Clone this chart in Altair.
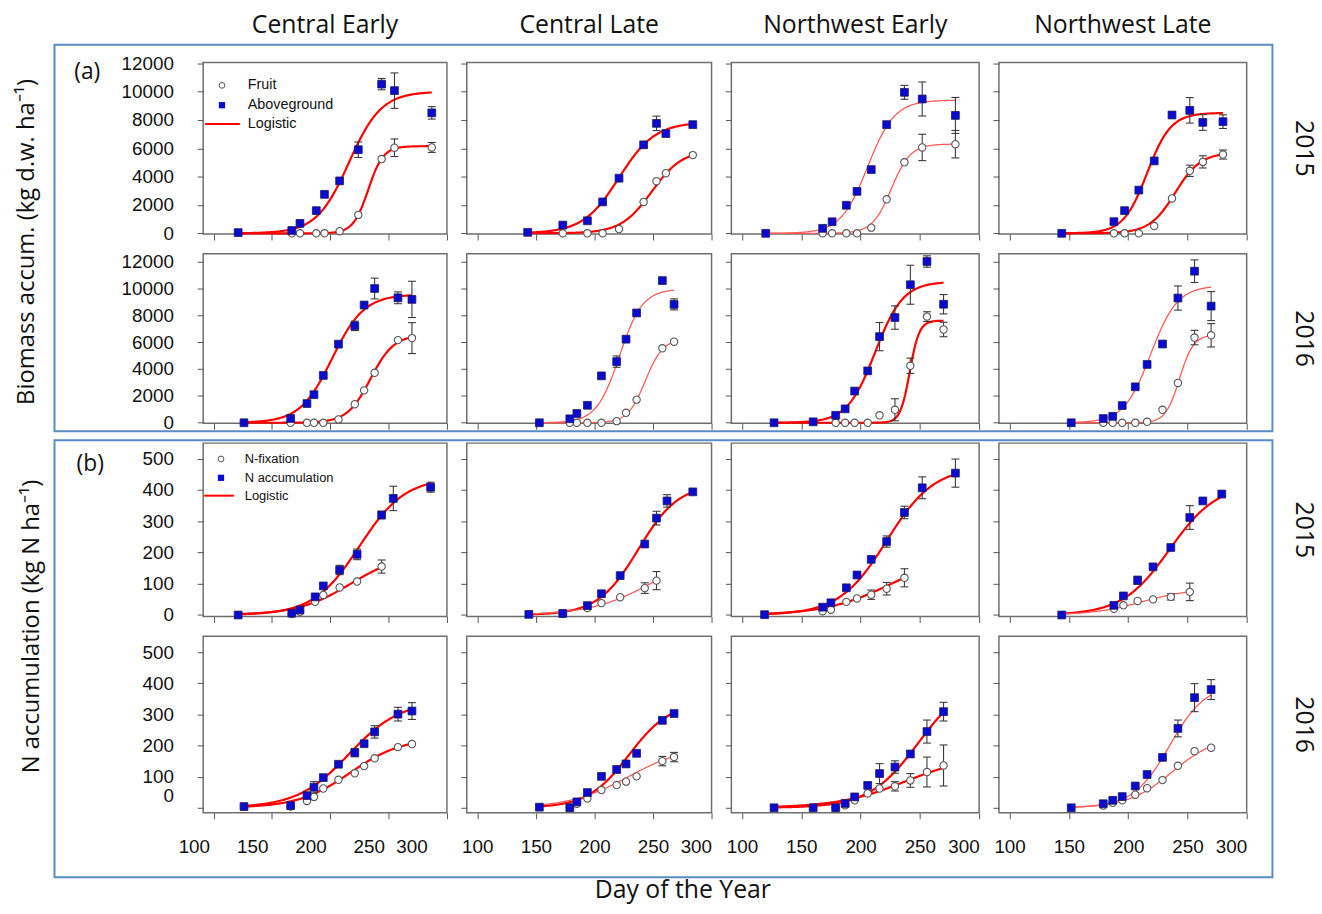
import numpy as np
import pandas as pd
import altair as alt

nan = float("nan")

COLUMNS = ["Central Early", "Central Late", "Northwest Early", "Northwest Late"]
YEARS = ["2015", "2016", "2015", "2016"]
DAY_TICKS = [100, 150, 200, 250, 300]
BIOMASS_TICKS = [0, 2000, 4000, 6000, 8000, 10000, 12000]
N_TICKS = [0, 100, 200, 300, 400, 500]

# ---------------- (a) biomass accumulation, 2015 ----------------
BIO15_DAY = [
    [121, 167, 174, 188, 195, 208, 224, 244, 255, 287],
    [143, 173, 194, 207, 221, 242, 253, 261, 284],
    [120, 168, 176, 188, 197, 209, 222, 237, 252, 280],
    [144, 188, 197, 209, 222, 237, 252, 263, 280],
]
BIO15_ABOVE = [
    [50, 200, 700, 1600, 2750, 3700, 5900, 10530, 10070, 8500],
    [70, 580, 885, 2215, 3890, 6245, 7760, 7040, 7670],
    [0, 350, 815, 1980, 2960, 4500, 7670, 9950, 9480, 8320],
    [0, 820, 1600, 3050, 5110, 8350, 8680, 7830, 7880],
]
BIO15_ABOVE_SE = [
    [0, 0, 0, 0, 0, 0, 550, 400, 1250, 440],
    [0, 0, 0, 0, 0, 0, 510, 0, 0],
    [0, 0, 0, 0, 0, 0, 0, 490, 1200, 1270],
    [0, 0, 0, 0, 0, 0, 900, 560, 480],
]
BIO15_FRUIT = [
    [nan, 0, 0, 0, 0, 150, 1300, 5240, 6040, 6060],
    [nan, 0, 0, 0, 300, 2215, 3680, 4240, 5520],
    [nan, 0, 0, 0, 0, 400, 2400, 5010, 6060, 6290],
    [nan, 0, 0, 0, 515, 2460, 4410, 5040, 5560],
]
BIO15_FRUIT_SE = [
    [0, 0, 0, 0, 0, 0, 0, 0, 620, 350],
    [0, 0, 0, 0, 0, 0, 0, 0, 0],
    [0, 0, 0, 0, 0, 0, 0, 0, 930, 970],
    [0, 0, 0, 0, 0, 0, 400, 430, 320],
]
# logistic fits: (K, r, t0)
BIO15_ABOVE_FIT = [(10000, 0.072, 216), (7850, 0.065, 221), (9400, 0.088, 206), (8500, 0.100, 216)]
BIO15_FRUIT_FIT = [(6150, 0.155, 232.5), (5900, 0.076, 249), (6300, 0.124, 226), (5700, 0.093, 239.6)]
BIO15_ABOVE_BOLD = [True, True, False, True]
BIO15_FRUIT_BOLD = [True, True, False, True]

# ---------------- (a) biomass accumulation, 2016 ----------------
BIO16_DAY = [
    [126, 166, 180, 186, 194, 207, 221, 229, 238, 258, 270],
    [153, 179, 185, 194, 206, 219, 227, 236, 258, 268],
    [127, 160, 179, 187, 195, 206, 216, 229, 242, 256, 270],
    [152, 179, 187, 195, 206, 216, 229, 242, 256, 270],
]
BIO16_ABOVE = [
    [0, 320, 1430, 2090, 3520, 5850, 7210, 8760, 9990, 9300, 9180],
    [0, 295, 690, 1300, 3490, 4550, 6220, 8170, 10580, 8810],
    [0, 70, 555, 1035, 2360, 3860, 6410, 7830, 10270, 12000, 8820],
    [0, 315, 480, 1280, 2675, 4340, 5860, 9280, 11280, 8680],
]
BIO16_ABOVE_SE = [
    [0, 0, 0, 0, 0, 0, 350, 0, 770, 440, 1350],
    [0, 0, 0, 0, 0, 420, 0, 0, 0, 410],
    [0, 0, 0, 0, 0, 0, 1050, 870, 1450, 420, 720],
    [0, 0, 0, 0, 0, 0, 0, 900, 840, 1080],
]
BIO16_FRUIT = [
    [nan, 0, 0, 0, 0, 250, 1380, 2410, 3720, 6150, 6300],
    [nan, 0, 0, 0, 0, 120, 740, 1720, 5540, 6030],
    [nan, nan, 0, 0, 0, 0, 555, 965, 4240, 7900, 6940],
    [nan, 0, 0, 0, 0, 70, 965, 2965, 6340, 6510],
]
BIO16_FRUIT_SE = [
    [0, 0, 0, 0, 0, 0, 0, 0, 0, 0, 1150],
    [0, 0, 0, 0, 0, 0, 0, 0, 0, 0],
    [0, 0, 0, 0, 0, 0, 0, 820, 570, 360, 540],
    [0, 0, 0, 0, 0, 0, 0, 0, 540, 870],
]
BIO16_ABOVE_FIT = [(9550, 0.073, 201.5), (9950, 0.102, 221.4), (10500, 0.085, 212.3), (10200, 0.0887, 219)]
BIO16_FRUIT_FIT = [(6550, 0.100, 234.5), (6250, 0.133, 243.5), (7600, 0.250, 241.5), (6550, 0.170, 243.3)]
BIO16_ABOVE_BOLD = [True, False, True, False]
BIO16_FRUIT_BOLD = [True, False, True, False]

# ---------------- (b) N accumulation, 2015 ----------------
N15_DAY = [
    [121, 167, 174, 187, 194, 208, 223, 244, 254, 286],
    [144, 173, 194, 206, 222, 243, 253, 262, 284],
    [119, 168, 175, 188, 197, 209, 222, 237, 252, 280],
    [144, 188, 196, 208, 221, 236, 252, 263, 279],
]
N15_ACC = [
    [0, 6, 16, 58, 93, 144, 194, 320, 373, 409],
    [2, 5, 30, 68, 126, 227, 310, 365, 394],
    [1, 25, 39, 87, 128, 178, 235, 328, 407, 454],
    [0, 31, 61, 111, 154, 216, 312, 365, 387],
]
N15_ACC_SE = [
    [0, 0, 0, 0, 0, 15, 17, 12, 39, 16],
    [0, 0, 0, 0, 0, 0, 22, 20, 0],
    [0, 0, 0, 0, 0, 0, 18, 20, 35, 45],
    [0, 0, 0, 13, 0, 0, 38, 0, 10],
]
N15_FIX = [
    [nan, 3, 10, 42, 64, 88, 107, 155, nan, nan],
    [nan, 3, 22, 38, 57, 86, 110, nan, nan],
    [nan, 12, 17, 42, 53, 65, 84, 119, nan, nan],
    [nan, 20, 31, 45, 50, 58, 74, nan, nan],
]
N15_FIX_SE = [
    [0, 0, 0, 0, 0, 0, 0, 21, 0, 0],
    [0, 0, 0, 0, 0, 17, 29, 0, 0],
    [0, 0, 0, 0, 0, 15, 20, 29, 0, 0],
    [0, 0, 0, 0, 0, 10, 28, 0, 0],
]
N15_ACC_FIT = [(440, 0.051, 225), (420, 0.058, 237.5), (475, 0.050, 222), (420, 0.050, 235)]
N15_FIX_FIT = [(200, 0.044, 217.5), (200, 0.039, 247.7), (200, 0.036, 226), (85, 0.048, 212)]
N15_ACC_BOLD = [True, True, True, True]
N15_FIX_BOLD = [True, False, True, False]

# ---------------- (b) N accumulation, 2016 ----------------
N16_DAY = [
    [126, 166, 180, 186, 194, 207, 221, 229, 238, 258, 270],
    [153, 179, 185, 194, 206, 219, 227, 236, 258, 268],
    [127, 160, 179, 187, 195, 206, 216, 229, 242, 256, 270],
    [152, 179, 187, 195, 206, 216, 229, 242, 256, 270],
]
N16_ACC = [
    [4, 7, 39, 66, 97, 140, 177, 206, 244, 301, 311],
    [2, 0, 19, 49, 101, 123, 141, 175, 281, 303],
    [0, 0, 0, 14, 35, 72, 110, 131, 173, 245, 309],
    [0, 13, 24, 36, 70, 107, 162, 255, 354, 380],
]
N16_ACC_SE = [
    [0, 0, 0, 18, 0, 0, 13, 0, 20, 22, 27],
    [0, 0, 0, 0, 0, 10, 10, 0, 10, 8],
    [0, 0, 0, 0, 0, 0, 32, 20, 10, 37, 30],
    [0, 0, 0, 0, 0, 0, 0, 27, 45, 32],
]
N16_FIX = [
    [nan, 4, 22, 35, 62, 90, 111, 134, 159, 195, 205],
    [nan, 2, 13, 30, 57, 73, 84, 101, 150, 163],
    [nan, nan, 0, 8, 24, 46, 62, 69, 88, 115, 136],
    [nan, 7, 16, 24, 42, 63, 89, 135, 182, 193],
]
N16_FIX_SE = [
    [0, 0, 0, 0, 0, 0, 0, 0, 0, 0, 0],
    [0, 0, 0, 0, 0, 0, 0, 0, 15, 15],
    [0, 0, 0, 0, 0, 0, 0, 15, 22, 48, 66],
    [0, 0, 0, 0, 0, 0, 0, 0, 0, 0],
]
N16_ACC_FIT = [(345, 0.045, 216), (340, 0.057, 229.5), (420, 0.048, 249), (400, 0.065, 235)]
N16_FIX_FIT = [(225, 0.045, 217), (200, 0.040, 229), (170, 0.035, 238), (230, 0.054, 237)]
N16_ACC_BOLD = [True, True, True, False]
N16_FIX_BOLD = [True, False, True, False]

ROWS = [
    (BIO15_DAY, BIO15_ABOVE, BIO15_ABOVE_SE, BIO15_FRUIT, BIO15_FRUIT_SE,
     BIO15_ABOVE_FIT, BIO15_FRUIT_FIT, BIO15_ABOVE_BOLD, BIO15_FRUIT_BOLD),
    (BIO16_DAY, BIO16_ABOVE, BIO16_ABOVE_SE, BIO16_FRUIT, BIO16_FRUIT_SE,
     BIO16_ABOVE_FIT, BIO16_FRUIT_FIT, BIO16_ABOVE_BOLD, BIO16_FRUIT_BOLD),
    (N15_DAY, N15_ACC, N15_ACC_SE, N15_FIX, N15_FIX_SE,
     N15_ACC_FIT, N15_FIX_FIT, N15_ACC_BOLD, N15_FIX_BOLD),
    (N16_DAY, N16_ACC, N16_ACC_SE, N16_FIX, N16_FIX_SE,
     N16_ACC_FIT, N16_FIX_FIT, N16_ACC_BOLD, N16_FIX_BOLD),
]

# layout of the 4x4 grid of panels
COL_W = [246, 247, 250, 250]
ROW_H = [173, 171, 175, 178]
X_DOMAIN = [91, 300]
Y_DOMAIN = [[-50, 12050], [-40, 12570], [-5, 550], [-16, 551]]
Y_TICKS = [BIOMASS_TICKS, BIOMASS_TICKS, N_TICKS, N_TICKS]

RED = "#ff0000"
RED_LIGHT = "#ff5a5a"
BLUE = "#0a0ad2"
FRAME_BLUE = "#5b8bc6"
TEXT_FONT = "Open Sans"
TICK_FONT = "Liberation Sans"

ONE = pd.DataFrame({"k": [0]})


def logistic(K, r, t0, d0, d1, name, bold):
    t = np.linspace(d0, d1, 160)
    return pd.DataFrame({
        "day": t,
        "val": K / (1.0 + np.exp(-r * (t - t0))),
        "series": name,
        "clr": RED if bold else RED_LIGHT,
        "sw": 2.2 if bold else 1.3,
    })


def label(text, x, y, size=14, font=TICK_FONT, align="left", angle=0, baseline="middle"):
    return alt.Chart(ONE).mark_text(
        text=text, font=font, fontSize=size, align=align, baseline=baseline,
        angle=angle, color="#111111",
    ).encode(x=alt.value(x), y=alt.value(y))


def panel(ri, ci):
    (days, filled, filled_se, hollow, hollow_se,
     filled_fit, hollow_fit, filled_bold, hollow_bold) = ROWS[ri]
    d = np.array(days[ci], dtype=float)
    f = np.array(filled[ci], dtype=float)
    fse = np.array(filled_se[ci], dtype=float)
    h = np.array(hollow[ci], dtype=float)
    hse = np.array(hollow_se[ci], dtype=float)
    w, ht = COL_W[ci], ROW_H[ri]

    xaxis_kw = dict(values=DAY_TICKS, labels=(ri == 3), title=None, labelPadding=19)
    if ri == 3 and ci == 0:
        xaxis_kw["labelOffset"] = -20
    yaxis_kw = dict(values=Y_TICKS[ri], labels=(ci == 0), title=None, labelPadding=24,
                    format="d")
    if ri == 3:
        yaxis_kw["labelOffset"] = {"condition": {"test": "datum.value === 0", "value": -12},
                                   "value": 0}
    xaxis = alt.Axis(**xaxis_kw)
    yaxis = alt.Axis(**yaxis_kw)
    xs = alt.Scale(domain=X_DOMAIN, nice=False, zero=False)
    ys = alt.Scale(domain=Y_DOMAIN[ri], nice=False, zero=False)

    def X(field="day"):
        return alt.X(f"{field}:Q", scale=xs, axis=xaxis)

    def Y(field="val"):
        return alt.Y(f"{field}:Q", scale=ys, axis=yaxis)

    hmask = ~np.isnan(h)
    Kf, rf, tf = filled_fit[ci]
    Kh, rh, th = hollow_fit[ci]
    curves = pd.concat([
        logistic(Kf, rf, tf, d[0], d[-1], "filled", filled_bold[ci]),
        logistic(Kh, rh, th, d[0], d[hmask][-1], "hollow", hollow_bold[ci]),
    ])

    pts_f = pd.DataFrame({"day": d, "val": f})
    pts_h = pd.DataFrame({"day": d[hmask], "val": h[hmask]})
    errs = pd.concat([
        pd.DataFrame({"day": d, "lo": f - fse, "hi": f + fse, "se": fse}),
        pd.DataFrame({"day": d, "lo": h - hse, "hi": h + hse, "se": hse}),
    ])
    errs = errs[(errs["se"] > 0) & errs["lo"].notna()]

    layers = [
        alt.Chart(curves).mark_line().encode(
            x=X(), y=Y(), detail="series:N",
            color=alt.Color("clr:N", scale=None),
            strokeWidth=alt.StrokeWidth("sw:Q", scale=None),
        ),
    ]
    if len(errs):
        layers += [
            alt.Chart(errs).mark_rule(color="#3a3a3a", strokeWidth=1.1).encode(
                x=X(), y=Y("lo"), y2="hi:Q"),
            alt.Chart(errs).mark_rule(color="#3a3a3a", strokeWidth=1.1, xOffset=-4, x2Offset=4).encode(
                x=X(), x2="day:Q", y=Y("lo")),
            alt.Chart(errs).mark_rule(color="#3a3a3a", strokeWidth=1.1, xOffset=-4, x2Offset=4).encode(
                x=X(), x2="day:Q", y=Y("hi")),
        ]
    layers += [
        alt.Chart(pts_h).mark_point(shape="circle", size=55, filled=True, fill="white",
                                    stroke="#555555", strokeWidth=1.1, opacity=1).encode(x=X(), y=Y()),
        alt.Chart(pts_f).mark_square(size=62, color=BLUE, stroke="#1b1b5a", strokeWidth=0.8,
                                     opacity=1).encode(x=X(), y=Y()),
    ]

    # in-panel legend
    if ci == 0 and ri in (0, 2):
        names = ["Fruit", "Aboveground"] if ri == 0 else ["N-fixation", "N accumulation"]
        if ri == 0:
            lx, ly, tx, fs, lx0, lx1 = 19, [23, 43, 62], 45, 14.5, 2, 37
        else:
            lx, ly, tx, fs, lx0, lx1 = 18, [16, 35, 53], 42, 13, 1, 31
        layers += [
            alt.Chart(ONE).mark_point(shape="circle", size=34, filled=True, fill="white",
                                      stroke="#555555", strokeWidth=1, opacity=1).encode(
                x=alt.value(lx), y=alt.value(ly[0])),
            alt.Chart(ONE).mark_square(size=40, color=BLUE, opacity=1).encode(
                x=alt.value(lx), y=alt.value(ly[1])),
            alt.Chart(ONE).mark_rule(color=RED, strokeWidth=2).encode(
                x=alt.value(lx0), x2=alt.value(lx1), y=alt.value(ly[2])),
            label(names[0], tx, ly[0], fs),
            label(names[1], tx, ly[1], fs),
            label("Logistic", tx, ly[2], fs),
        ]

    # section boxes, panel letters and the shared y titles
    if ci == 0 and ri == 0:
        layers += [
            alt.Chart(ONE).mark_rect(fillOpacity=0, stroke=FRAME_BLUE, strokeWidth=2).encode(
                x=alt.value(-150), x2=alt.value(1079), y=alt.value(-18), y2=alt.value(372)),
            label("(a)", -117, 10, 23, TEXT_FONT, "center"),
            label("Biomass accum. (kg d.w. ha\u207b\u00b9)", -178, 181, 24, TEXT_FONT,
                  "center", 270),
        ]
    if ci == 0 and ri == 2:
        layers += [
            alt.Chart(ONE).mark_rect(fillOpacity=0, stroke=FRAME_BLUE, strokeWidth=2).encode(
                x=alt.value(-150), x2=alt.value(1079), y=alt.value(-3), y2=alt.value(438)),
            label("(b)", -114, 21, 23, TEXT_FONT, "center"),
            label("N accumulation (kg N ha\u207b\u00b9)", -173, 185, 24, TEXT_FONT,
                  "center", 270),
        ]
    if ri == 0:
        layers.append(label(COLUMNS[ci], w / 2, -38, 25, TEXT_FONT, "center"))
    if ci == 3:
        layers.append(label(YEARS[ri], w + 58, ht / 2, 25, TEXT_FONT, "center", 90))
    if ri == 3 and ci == 1:
        layers.append(label("Day of the Year", 218, 256, 25, TEXT_FONT, "center"))

    return alt.layer(*layers).properties(width=w, height=ht)


panels = [panel(ri, ci) for ri in range(4) for ci in range(4)]

chart = alt.concat(
    *panels, columns=4, spacing={"row": 20, "column": 20}, bounds="flush",
).properties(
    padding={"left": 14, "top": 8, "right": 5, "bottom": 5},
    background="white",
).configure_view(
    stroke="#6f6f6f", strokeWidth=1.5,
).configure_axis(
    grid=False, domain=False, tickColor="#555555", tickSize=6, tickWidth=1,
    labelFont=TICK_FONT, labelFontSize=19, labelColor="#111111",
)

chart.save("out.html", embed_options={"renderer": "svg", "actions": False})
